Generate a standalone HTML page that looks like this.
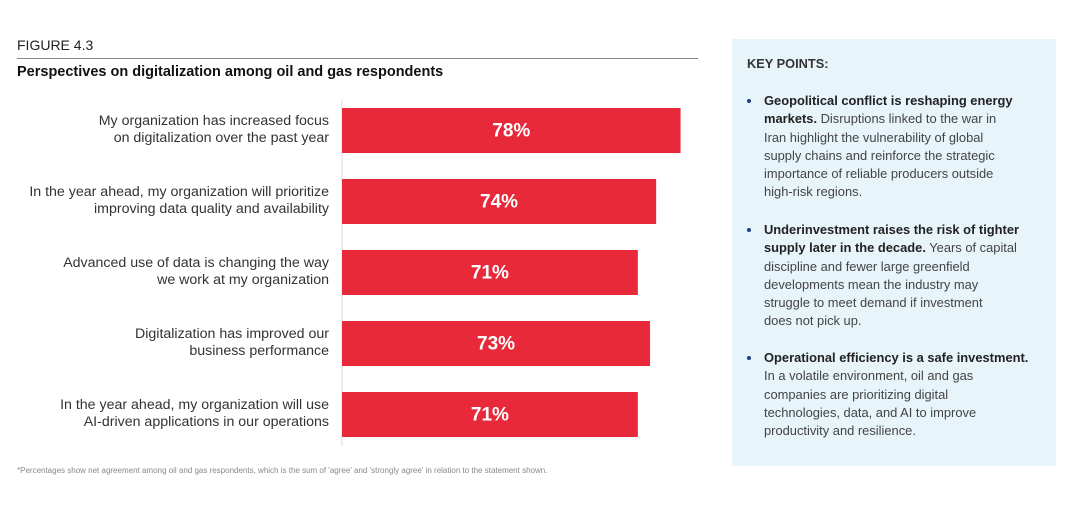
<!DOCTYPE html>
<html><head><meta charset="utf-8">
<style>
body{margin:0;width:1080px;height:510px;background:#fff;font-family:"Liberation Sans",sans-serif;position:relative;overflow:hidden}
.a{position:absolute;white-space:nowrap}
.lab{position:absolute;right:751px;text-align:right;font-size:14.2px;line-height:17px;color:#333;white-space:nowrap}
.kp{position:absolute;left:764px;font-size:12.9px;line-height:18.3px;color:#444;white-space:nowrap}
.kp b{color:#222}
.bul{position:absolute;left:747px;width:4px;height:4px;border-radius:50%;background:#1f3c88}
</style></head><body>
<div class="a" style="left:17px;top:37px;font-size:14px;color:#222">FIGURE 4.3</div>
<div class="a" style="left:17px;top:58px;width:681px;height:1px;background:#888"></div>
<div class="a" style="left:17px;top:64px;font-size:14.5px;font-weight:bold;color:#111">Perspectives on digitalization among oil and gas respondents</div>
<svg id="chart" width="1080" height="510" style="position:absolute;left:0;top:0"></svg>
<div id="labels"></div>
<div class="a" style="left:17px;top:466px;font-size:8px;color:#888">*Percentages show net agreement among oil and gas respondents, which is the sum of 'agree' and 'strongly agree' in relation to the statement shown.</div>
<div class="a" style="left:732px;top:39px;width:324px;height:427px;background:#e7f4fa"></div>
<div class="a" style="left:747px;top:56px;font-size:12.8px;font-weight:bold;color:#333">KEY POINTS:</div>
<div class="bul" style="top:99px"></div>
<div class="kp" style="top:92px"><b>Geopolitical conflict is reshaping energy</b><br><b>markets.</b> Disruptions linked to the war in<br>Iran highlight the vulnerability of global<br>supply chains and reinforce the strategic<br>importance of reliable producers outside<br>high-risk regions.</div>
<div class="bul" style="top:228px"></div>
<div class="kp" style="top:221px"><b>Underinvestment raises the risk of tighter</b><br><b>supply later in the decade.</b> Years of capital<br>discipline and fewer large greenfield<br>developments mean the industry may<br>struggle to meet demand if investment<br>does not pick up.</div>
<div class="bul" style="top:356px"></div>
<div class="kp" style="top:349px"><b>Operational efficiency is a safe investment.</b><br>In a volatile environment, oil and gas<br>companies are prioritizing digital<br>technologies, data, and AI to improve<br>productivity and resilience.</div>
<script>
const categories=["My organization has increased focus|on digitalization over the past year","In the year ahead, my organization will prioritize|improving data quality and availability","Advanced use of data is changing the way|we work at my organization","Digitalization has improved our|business performance","In the year ahead, my organization will use|AI-driven applications in our operations"];
const values=[78,74,71,73,71];
const valueLabels=["78%","74%","71%","73%","71%"];
const x0=342,scaleK=6.1,origin=22.5,top0=108,pitch=71,bh=45;
const xs=v=>x0+(v-origin)*scaleK;
const ys=i=>top0+i*pitch;
const svg=document.getElementById('chart');
const ns='http://www.w3.org/2000/svg';
const ax=document.createElementNS(ns,'line');
ax.setAttribute('x1',x0);ax.setAttribute('x2',x0);ax.setAttribute('y1',100);ax.setAttribute('y2',446);
ax.setAttribute('stroke','#ddd');ax.setAttribute('stroke-width','1');


svg.appendChild(ax);
const lb=document.getElementById('labels');
values.forEach((v,i)=>{
  const r=document.createElementNS(ns,'rect');
  r.setAttribute('x',x0);r.setAttribute('y',ys(i));r.setAttribute('width',xs(v)-x0);r.setAttribute('height',bh);r.setAttribute('fill','#e8293a');
  
  
  svg.appendChild(r);
  const t=document.createElementNS(ns,'text');
  t.setAttribute('x',(x0+xs(v))/2);t.setAttribute('y',ys(i)+bh/2+6);t.setAttribute('text-anchor','middle');
  t.setAttribute('fill','#fff');t.setAttribute('font-size','19');t.setAttribute('font-weight','bold');t.setAttribute('font-family','Liberation Sans, sans-serif');
  t.textContent=valueLabels[i];
  
  
  svg.appendChild(t);
  const d=document.createElement('div');
  d.className='lab';d.style.top=(ys(i)+5)+'px';
  d.innerHTML=categories[i].split('|').join('<br>');
  
  
  lb.appendChild(d);
});
</script>
</body></html>
